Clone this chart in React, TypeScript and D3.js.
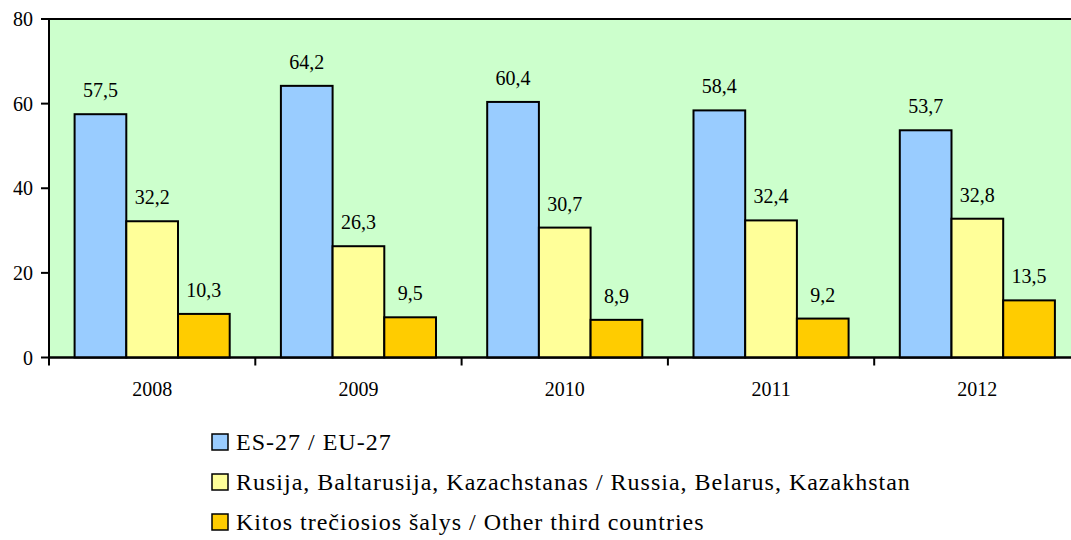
import React from "react";
import * as d3 from "d3";

const years = ["2008", "2009", "2010", "2011", "2012"];
const euValues = [57.5, 64.2, 60.4, 58.4, 53.7];
const rbkValues = [32.2, 26.3, 30.7, 32.4, 32.8];
const otherValues = [10.3, 9.5, 8.9, 9.2, 13.5];
const seriesNames = [
  "ES-27 / EU-27",
  "Rusija, Baltarusija, Kazachstanas / Russia, Belarus, Kazakhstan",
  "Kitos trečiosios šalys / Other third countries",
];
const seriesColors = ["#99CCFF", "#FFFF99", "#FFCC00"];
const yTicks = [0, 20, 40, 60, 80];

const FONT = "Liberation Serif, Tinos, Times New Roman, DejaVu Serif, serif";

export default function App() {
  const W = 1071, H = 540;
  const left = 49, top = 19, bottom = 357.5, right = 1080.5;
  const x = d3.scaleBand<string>().domain(years).range([left, right]).paddingInner(0).paddingOuter(0);
  const y = d3.scaleLinear().domain([0, 80]).range([bottom, top]);
  const groupPad = 25.6;
  const inner = d3
    .scaleBand<number>()
    .domain([0, 1, 2])
    .range([groupPad, x.bandwidth() - groupPad])
    .padding(0);
  const series = [euValues, rbkValues, otherValues];
  const fmt = (v: number) => v.toFixed(1).replace(".", ",");

  return (
    <div style={{ position: "fixed", left: 0, top: 0, fontFamily: FONT }}>
      <svg width={W} height={H} style={{ display: "block" }} fontFamily={FONT}>
        <rect x={0} y={0} width={W} height={H} fill="#ffffff" />
        <rect x={left} y={top} width={right - left} height={bottom - top} fill="#CCFFCC" stroke="#000" strokeWidth={2} />
        {series.map((vals, si) =>
          vals.map((v, i) => {
            const bx = (x(years[i]) as number) + (inner(si) as number);
            const bw = inner.bandwidth();
            return (
              <g key={`${si}-${i}`}>
                <rect
                  x={bx}
                  y={y(v)}
                  width={bw}
                  height={bottom - y(v)}
                  fill={seriesColors[si]}
                  stroke="#000"
                  strokeWidth={2}
                />
                <text x={bx + bw / 2} y={y(v) - 17} textAnchor="middle" fontSize={20} fill="#000">
                  {fmt(v)}
                </text>
              </g>
            );
          })
        )}
        <line x1={left} x2={left} y1={top} y2={bottom} stroke="#000" strokeWidth={2} />
        {yTicks.map((t) => (
          <g key={t}>
            <line x1={left - 8} x2={left} y1={y(t)} y2={y(t)} stroke="#000" strokeWidth={2} />
            <text x={left - 16} y={y(t) + 7} textAnchor="end" fontSize={20} fill="#000">
              {t}
            </text>
          </g>
        ))}
        <line x1={left} x2={right} y1={bottom} y2={bottom} stroke="#000" strokeWidth={2} />
        {years.map((yr) => {
          const bx = x(yr) as number;
          return (
            <g key={yr}>
              <line x1={bx} x2={bx} y1={bottom} y2={bottom + 8} stroke="#000" strokeWidth={2} />
              <text x={bx + x.bandwidth() / 2} y={396} textAnchor="middle" fontSize={20} fill="#000">
                {yr}
              </text>
            </g>
          );
        })}
        {seriesNames.map((name, i) => {
          const cy = 442 + i * 40;
          return (
            <g key={name}>
              <rect x={212} y={cy - 8} width={16} height={16} fill={seriesColors[i]} stroke="#000" strokeWidth={1.5} />
              <text x={236} y={cy + 8} fontSize={24} letterSpacing={1} fill="#000">
                {name}
              </text>
            </g>
          );
        })}
      </svg>
    </div>
  );
}
